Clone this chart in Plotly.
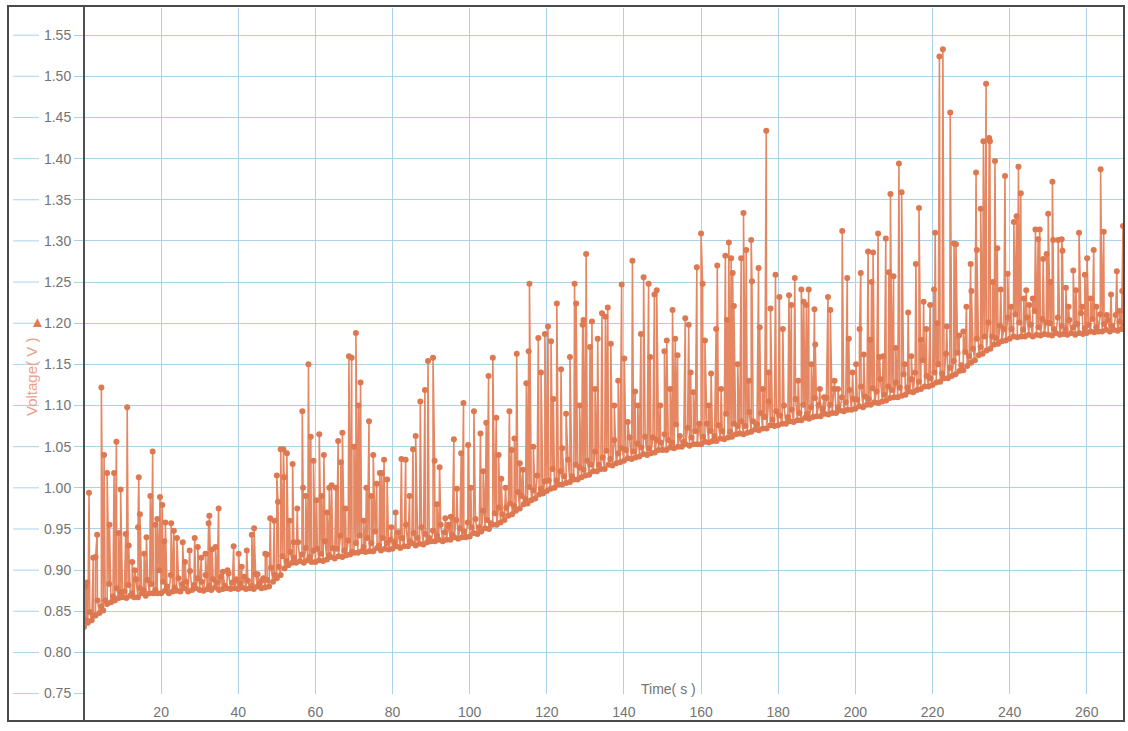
import plotly.graph_objects as go

# ---------------- data ----------------
SAMPLE_STEP = 0.5  # s, spacing of the base record

# base record, one row per 10 s (20 samples per row)
base_voltage = [
    0.831, 0.839, 0.836, 0.849, 0.839, 0.845, 0.845, 0.863, 0.848, 0.856, 0.851, 0.863, 0.859, 0.883, 0.861, 0.868, 0.863, 0.878, 0.866, 0.873,
    0.867, 0.874, 0.866, 0.882, 0.869, 0.872, 0.867, 0.889, 0.867, 0.878, 0.872, 0.875, 0.869, 0.888, 0.872, 0.883, 0.872, 0.876, 0.872, 0.900,
    0.872, 0.886, 0.875, 0.880, 0.872, 0.894, 0.874, 0.879, 0.875, 0.890, 0.874, 0.883, 0.878, 0.886, 0.874, 0.899, 0.876, 0.882, 0.878, 0.890,
    0.876, 0.886, 0.875, 0.894, 0.877, 0.881, 0.876, 0.889, 0.879, 0.885, 0.876, 0.892, 0.877, 0.881, 0.878, 0.896, 0.877, 0.885, 0.878, 0.889,
    0.877, 0.884, 0.879, 0.892, 0.877, 0.887, 0.878, 0.881, 0.877, 0.895, 0.880, 0.884, 0.878, 0.890, 0.879, 0.888, 0.880, 0.903, 0.886, 0.894,
    0.890, 0.904, 0.894, 0.917, 0.902, 0.911, 0.906, 0.922, 0.909, 0.915, 0.909, 0.934, 0.911, 0.919, 0.909, 0.927, 0.912, 0.916, 0.910, 0.924,
    0.910, 0.926, 0.912, 0.920, 0.911, 0.935, 0.913, 0.918, 0.916, 0.927, 0.914, 0.926, 0.917, 0.942, 0.916, 0.924, 0.918, 0.936, 0.919, 0.922,
    0.921, 0.933, 0.921, 0.942, 0.923, 0.928, 0.922, 0.939, 0.923, 0.933, 0.923, 0.947, 0.927, 0.930, 0.924, 0.939, 0.926, 0.933, 0.925, 0.937,
    0.926, 0.934, 0.929, 0.946, 0.927, 0.939, 0.929, 0.955, 0.929, 0.935, 0.933, 0.945, 0.930, 0.939, 0.932, 0.952, 0.931, 0.944, 0.934, 0.939,
    0.935, 0.948, 0.935, 0.942, 0.937, 0.955, 0.935, 0.946, 0.937, 0.953, 0.937, 0.943, 0.940, 0.961, 0.938, 0.951, 0.940, 0.947, 0.940, 0.958,
    0.941, 0.952, 0.945, 0.962, 0.944, 0.952, 0.947, 0.972, 0.951, 0.961, 0.950, 0.957, 0.955, 0.969, 0.955, 0.976, 0.958, 0.968, 0.961, 0.976,
    0.966, 0.981, 0.968, 0.978, 0.972, 0.995, 0.975, 0.990, 0.980, 0.986, 0.981, 1.001, 0.985, 0.997, 0.987, 1.015, 0.992, 0.999, 0.993, 1.008,
    0.996, 1.009, 0.999, 1.023, 1.000, 1.009, 1.004, 1.020, 1.004, 1.014, 1.006, 1.034, 1.007, 1.014, 1.010, 1.028, 1.010, 1.025, 1.013, 1.022,
    1.015, 1.033, 1.016, 1.028, 1.020, 1.044, 1.020, 1.028, 1.023, 1.037, 1.023, 1.045, 1.028, 1.035, 1.027, 1.058, 1.030, 1.042, 1.031, 1.048,
    1.033, 1.046, 1.036, 1.061, 1.035, 1.044, 1.037, 1.054, 1.038, 1.049, 1.041, 1.062, 1.040, 1.048, 1.042, 1.061, 1.043, 1.058, 1.046, 1.055,
    1.046, 1.065, 1.046, 1.058, 1.049, 1.055, 1.048, 1.077, 1.050, 1.063, 1.050, 1.056, 1.053, 1.073, 1.051, 1.061, 1.053, 1.069, 1.053, 1.078,
    1.053, 1.062, 1.056, 1.078, 1.055, 1.069, 1.057, 1.063, 1.057, 1.076, 1.060, 1.069, 1.059, 1.090, 1.061, 1.068, 1.062, 1.078, 1.065, 1.075,
    1.066, 1.081, 1.065, 1.075, 1.067, 1.092, 1.068, 1.081, 1.071, 1.077, 1.070, 1.091, 1.072, 1.086, 1.072, 1.105, 1.076, 1.083, 1.075, 1.093,
    1.076, 1.088, 1.078, 1.100, 1.078, 1.086, 1.081, 1.095, 1.080, 1.108, 1.082, 1.091, 1.082, 1.101, 1.085, 1.090, 1.084, 1.098, 1.086, 1.109,
    1.087, 1.101, 1.087, 1.096, 1.090, 1.109, 1.089, 1.101, 1.091, 1.120, 1.091, 1.098, 1.094, 1.110, 1.093, 1.104, 1.095, 1.119, 1.095, 1.108,
    1.096, 1.107, 1.099, 1.123, 1.098, 1.111, 1.101, 1.108, 1.101, 1.121, 1.104, 1.117, 1.103, 1.132, 1.105, 1.113, 1.106, 1.123, 1.109, 1.119,
    1.110, 1.128, 1.110, 1.122, 1.112, 1.138, 1.113, 1.122, 1.117, 1.132, 1.116, 1.140, 1.119, 1.129, 1.120, 1.155, 1.123, 1.136, 1.123, 1.133,
    1.125, 1.140, 1.128, 1.150, 1.129, 1.139, 1.133, 1.163, 1.133, 1.146, 1.136, 1.154, 1.138, 1.164, 1.142, 1.149, 1.143, 1.165, 1.148, 1.160,
    1.152, 1.169, 1.155, 1.181, 1.161, 1.171, 1.163, 1.184, 1.167, 1.201, 1.169, 1.184, 1.174, 1.182, 1.175, 1.197, 1.178, 1.193, 1.179, 1.207,
    1.181, 1.193, 1.184, 1.211, 1.183, 1.201, 1.184, 1.192, 1.184, 1.207, 1.186, 1.198, 1.184, 1.215, 1.186, 1.195, 1.185, 1.205, 1.187, 1.201,
    1.186, 1.200, 1.185, 1.193, 1.188, 1.207, 1.186, 1.197, 1.187, 1.192, 1.186, 1.204, 1.188, 1.195, 1.186, 1.199, 1.188, 1.212, 1.187, 1.194,
    1.188, 1.198, 1.190, 1.205, 1.189, 1.195, 1.190, 1.211, 1.190, 1.199, 1.192, 1.204, 1.190, 1.197, 1.192, 1.210, 1.191, 1.202, 1.193, 1.200,
]

# voltage spikes (time in s, voltage in V)
spike_time = [
    0.4, 0.8, 1.3, 2.4, 3.0, 3.4, 4.5, 5.2, 6.0, 6.6, 7.8, 8.4, 9.0, 9.5,
    10.8, 11.2, 11.6, 12.5, 13.2, 14.0, 14.2, 14.5, 15.6, 16.2, 17.2, 17.8, 18.5, 19.0, 19.7,
    20.3, 20.8, 21.1, 22.6, 23.3, 24.1, 25.6, 26.2, 27.4, 28.7, 29.5,
    30.4, 31.5, 32.3, 32.5, 33.2, 34.1, 34.9, 36.0, 37.2, 38.8,
    40.1, 40.9, 42.2, 43.5, 44.1, 45.0, 46.2, 47.0, 47.4, 48.3, 49.3,
    50.0, 50.3, 51.0, 51.7, 51.9, 52.6, 53.3, 54.1, 54.4, 55.3, 56.6, 56.8, 57.5, 58.2, 58.8, 59.5,
    60.3, 61.0, 61.6, 62.2, 63.0, 63.6, 64.2, 65.3, 65.9, 66.6, 67.0, 67.8, 68.7, 69.4,
    70.0, 70.5, 71.2, 71.7, 72.5, 73.2, 73.9, 74.5, 75.0, 75.9, 76.7,
    77.2, 77.8, 78.6, 79.7, 80.8, 82.3, 83.4, 84.4, 85.3, 86.0, 87.2, 88.4, 89.2,
    90.5, 90.9, 91.5, 92.2, 93.7, 94.5, 95.1, 95.9, 96.7, 97.8, 98.4, 99.6,
    100.3, 101.1, 102.8, 103.5, 104.3, 104.9, 106.0, 106.9, 107.5, 108.2, 109.3,
    110.3, 110.9, 111.6, 112.2, 113.0, 113.8, 114.7, 115.3, 115.5, 116.5, 117.8, 118.5, 119.5,
    120.3, 121.1, 121.7, 122.6, 123.7, 124.0, 125.0, 126.0, 127.2, 127.6, 128.5, 129.3, 129.5,
    130.2, 131.2, 131.7, 132.5, 133.2, 134.3, 135.2, 135.8, 136.6, 137.5, 138.5, 139.4,
    140.1, 141.0, 142.2, 142.9, 143.6, 144.4, 145.1, 146.4, 146.8, 147.9, 148.5, 149.4,
    150.5, 151.1, 152.0, 152.6, 153.3, 153.9, 155.9, 156.8, 157.3, 158.0, 158.9,
    160.0, 160.4, 161.0, 162.0, 162.6, 163.9, 164.2, 165.2, 166.3, 166.7, 167.2, 167.8, 168.2, 168.5, 169.5,
    170.4, 171.0, 171.7, 172.4, 173.0, 173.2, 174.9, 175.2, 176.0, 176.9, 177.5, 178.0, 179.3,
    180.3, 181.2, 182.8, 183.4, 184.3, 185.2, 186.0, 186.6, 187.3, 187.9, 188.6, 189.4, 189.6,
    190.8, 191.9, 192.9, 193.5, 194.6, 195.5, 196.6, 197.9, 198.3, 199.3,
    200.2, 201.1, 201.4, 202.2, 203.3, 203.8, 204.2, 204.6, 205.9, 206.3, 207.2, 207.9, 208.7, 209.1, 209.9,
    210.5, 211.3, 212.0, 212.8, 213.7, 214.5, 215.7, 216.5, 217.0, 217.7, 218.4, 219.4,
    220.4, 220.7, 221.2, 221.8, 222.7, 223.7, 224.6, 225.6, 226.1, 226.9, 228.0, 228.8, 229.9,
    230.1, 231.3, 231.5, 232.5, 233.2, 233.9, 234.7, 234.9, 235.6, 236.2, 236.8, 237.7, 238.8, 239.5,
    240.4, 241.1, 241.8, 242.3, 242.9, 243.7, 244.3, 245.1, 246.0, 246.7, 247.4, 247.8, 248.7, 249.6,
    250.0, 250.6, 251.1, 251.3, 252.6, 253.5, 253.7, 254.6, 255.3, 256.5, 257.2, 258.0, 258.8, 259.5,
    260.1, 261.0, 261.8, 262.5, 263.6, 264.4, 265.2, 266.3, 267.8, 268.5, 269.2, 269.4,
]
spike_voltage = [
    0.880, 0.885, 0.994, 0.915, 0.916, 0.943, 1.122, 1.040, 1.018, 0.955, 1.018, 1.056, 0.945, 0.998,
    0.944, 1.098, 0.930, 0.910, 0.900, 0.952, 1.013, 0.968, 0.920, 0.940, 0.990, 1.044, 0.955, 0.962, 0.989,
    0.979, 0.935, 0.958, 0.957, 0.948, 0.939, 0.934, 0.910, 0.924, 0.939, 0.928,
    0.915, 0.920, 0.957, 0.966, 0.925, 0.928, 0.975, 0.898, 0.900, 0.929,
    0.920, 0.904, 0.924, 0.943, 0.951, 0.895, 0.888, 0.920, 0.919, 0.963, 0.960,
    1.015, 0.983, 1.047, 1.047, 1.013, 1.042, 0.960, 1.029, 0.934, 0.975, 1.093, 1.000, 0.990, 1.150, 1.062, 1.033,
    0.985, 1.065, 0.990, 1.040, 0.970, 1.000, 1.003, 1.000, 1.057, 1.031, 1.067, 0.975, 1.160, 1.158,
    1.050, 1.188, 1.100, 1.128, 0.960, 1.000, 1.081, 0.990, 1.040, 1.005, 1.018,
    1.018, 1.034, 1.010, 0.952, 0.970, 1.035, 1.034, 0.990, 1.047, 1.063, 1.105, 1.119, 1.154,
    1.158, 1.033, 0.980, 1.025, 0.963, 0.955, 0.965, 1.059, 0.999, 1.042, 1.103, 1.052,
    1.000, 1.093, 1.066, 1.020, 1.079, 1.136, 1.158, 1.085, 1.040, 1.011, 1.000,
    1.093, 1.046, 1.060, 1.163, 1.030, 1.022, 1.127, 1.166, 1.248, 1.050, 1.182, 1.140, 1.187,
    1.196, 1.178, 1.108, 1.224, 1.144, 1.048, 1.090, 1.159, 1.248, 1.224, 1.100, 1.198, 1.204,
    1.284, 1.171, 1.202, 1.120, 1.181, 1.212, 1.208, 1.219, 1.175, 1.100, 1.130, 1.247,
    1.157, 1.080, 1.276, 1.117, 1.100, 1.187, 1.256, 1.248, 1.159, 1.235, 1.240, 1.100,
    1.166, 1.179, 1.120, 1.216, 1.181, 1.161, 1.206, 1.198, 1.140, 1.116, 1.268,
    1.309, 1.248, 1.179, 1.100, 1.139, 1.193, 1.270, 1.120, 1.282, 1.204, 1.298, 1.279, 1.261, 1.221, 1.150,
    1.279, 1.334, 1.289, 1.130, 1.301, 1.251, 1.267, 1.195, 1.120, 1.434, 1.140, 1.218, 1.259,
    1.232, 1.193, 1.234, 1.222, 1.255, 1.130, 1.241, 1.226, 1.222, 1.241, 1.150, 1.217, 1.174,
    1.120, 1.110, 1.232, 1.216, 1.130, 1.120, 1.312, 1.255, 1.181, 1.140,
    1.150, 1.193, 1.261, 1.162, 1.287, 1.180, 1.250, 1.286, 1.309, 1.159, 1.160, 1.303, 1.262, 1.357, 1.257,
    1.170, 1.394, 1.359, 1.150, 1.213, 1.160, 1.272, 1.340, 1.180, 1.226, 1.193, 1.222,
    1.241, 1.310, 1.200, 1.524, 1.533, 1.196, 1.456, 1.297, 1.296, 1.185, 1.190, 1.220, 1.272,
    1.239, 1.383, 1.289, 1.339, 1.421, 1.491, 1.425, 1.421, 1.250, 1.397, 1.291, 1.241, 1.379, 1.260,
    1.220, 1.323, 1.330, 1.390, 1.358, 1.230, 1.240, 1.222, 1.230, 1.314, 1.302, 1.314, 1.278, 1.284,
    1.333, 1.250, 1.372, 1.301, 1.301, 1.302, 1.288, 1.243, 1.220, 1.264, 1.240, 1.310, 1.220, 1.259,
    1.279, 1.230, 1.289, 1.220, 1.387, 1.311, 1.210, 1.235, 1.263, 1.215, 1.239, 1.318,
]

x_ticks = [20, 40, 60, 80, 100, 120, 140, 160, 180, 200, 220, 240, 260]
y_ticks = [0.75, 0.80, 0.85, 0.90, 0.95, 1.00, 1.05, 1.10, 1.15, 1.20, 1.25,
           1.30, 1.35, 1.40, 1.45, 1.50, 1.55]
x_title = "Time( s )"
y_title = "Voltage( V )"

# ---------------- build the series ----------------
base_time = [i * SAMPLE_STEP for i in range(len(base_voltage))]
points = sorted(zip(base_time + spike_time, base_voltage + spike_voltage),
                key=lambda p: p[0])
t_all = [p[0] for p in points]
v_all = [p[1] for p in points]

# ---------------- layout geometry (pixels) ----------------
W, H = 1128, 731
ML, MR, MT, MB = 84, 5, 8, 37
PW, PH = W - ML - MR, H - MT - MB


def px_x(px):
    return (px - ML) / PW


def px_y(py):
    return (H - MB - py) / PH


GRID = "#aad3ea"
LINE_C = "rgb(229,135,98)"
MARK_C = "rgb(221,120,80)"
TXT = "#737373"

fig = go.Figure()
fig.add_trace(go.Scatter(
    x=t_all, y=v_all, mode="lines+markers",
    line=dict(color=LINE_C, width=1.6),
    marker=dict(color=MARK_C, size=6),
    hoverinfo="skip", showlegend=False,
))

shapes = []
# left extensions of the horizontal grid lines
for yv in y_ticks:
    shapes.append(dict(type="line", xref="paper", yref="y",
                       x0=px_x(13), x1=px_x(39), y0=yv, y1=yv,
                       line=dict(color=GRID, width=1), layer="below"))
# left axis line
shapes.append(dict(type="line", xref="paper", yref="paper",
                   x0=0, x1=0, y0=px_y(721), y1=px_y(6),
                   line=dict(color="#505050", width=2)))
# outer frame
shapes.append(dict(type="rect", xref="paper", yref="paper",
                   x0=px_x(8), x1=px_x(1124), y0=px_y(721), y1=px_y(6),
                   line=dict(color="#4a4a4a", width=2), fillcolor="rgba(0,0,0,0)"))

fig.update_layout(
    width=W, height=H,
    margin=dict(l=ML, r=MR, t=MT, b=MB),
    paper_bgcolor="white", plot_bgcolor="white",
    font=dict(family="Liberation Sans, Arial, sans-serif", size=14, color=TXT),
    shapes=shapes,
    annotations=[
        dict(text=x_title, xref="x", yref="paper", x=151.5, y=0,
             xanchor="center", yanchor="bottom", yshift=-5, showarrow=False,
             font=dict(size=14, color=TXT)),
        dict(text=y_title, xref="paper", yref="paper", x=px_x(32), y=px_y(377),
             xanchor="center", yanchor="middle", textangle=-90, showarrow=False,
             font=dict(size=15, color="#e9a18c")),
        dict(text="▲", xref="paper", yref="paper", x=px_x(37), y=px_y(321),
             xanchor="center", yanchor="middle", showarrow=False,
             font=dict(size=15, color="#e07b54")),
    ],
)
fig.update_xaxes(
    range=[0, 269.4], tickvals=x_ticks, ticktext=[str(v) for v in x_ticks],
    showgrid=True, gridcolor=GRID, gridwidth=1, zeroline=False, showline=False,
    ticks="", ticklabelstandoff=8,
)
fig.update_yaxes(
    range=[0.7495, 1.583], tickvals=y_ticks, ticktext=[f"{v:.2f}" for v in y_ticks],
    showgrid=True, gridcolor=GRID, gridwidth=1, zeroline=False, showline=False,
    ticks="outside", ticklen=9, tickcolor=GRID,
)

fig.write_html("out.html", config={"displayModeBar": False},
               post_script="document.body.style.margin='0px';")
